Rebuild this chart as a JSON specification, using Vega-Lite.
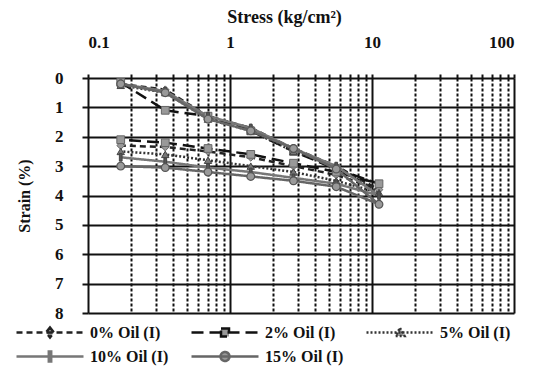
{
  "$schema": "https://vega.github.io/schema/vega-lite/v6.json",
  "width": 426,
  "height": 235,
  "autosize": "none",
  "padding": {"left": 88, "top": 78, "right": 28, "bottom": 57},
  "background": "white",
  "config": {
    "font": "Liberation Serif",
    "view": {"stroke": null}
  },
  "datasets": {
    "d": [
      {"series": "0% Oil (I)", "i": 0, "stress": 0.17, "strain": 0.2},
      {"series": "0% Oil (I)", "i": 1, "stress": 0.35, "strain": 0.4},
      {"series": "0% Oil (I)", "i": 2, "stress": 0.7, "strain": 1.3},
      {"series": "0% Oil (I)", "i": 3, "stress": 1.4, "strain": 1.7},
      {"series": "0% Oil (I)", "i": 4, "stress": 2.8, "strain": 2.4},
      {"series": "0% Oil (I)", "i": 5, "stress": 5.6, "strain": 3.0},
      {"series": "0% Oil (I)", "i": 6, "stress": 11.2, "strain": 3.8},
      {"series": "0% Oil (I)", "i": 7, "stress": 5.6, "strain": 3.3},
      {"series": "0% Oil (I)", "i": 8, "stress": 2.8, "strain": 3.0},
      {"series": "0% Oil (I)", "i": 9, "stress": 1.4, "strain": 2.7},
      {"series": "0% Oil (I)", "i": 10, "stress": 0.7, "strain": 2.5},
      {"series": "0% Oil (I)", "i": 11, "stress": 0.35, "strain": 2.35},
      {"series": "0% Oil (I)", "i": 12, "stress": 0.17, "strain": 2.3},
      {"series": "2% Oil (I)", "i": 0, "stress": 0.17, "strain": 0.15},
      {"series": "2% Oil (I)", "i": 1, "stress": 0.35, "strain": 1.1},
      {"series": "2% Oil (I)", "i": 2, "stress": 0.7, "strain": 1.3},
      {"series": "2% Oil (I)", "i": 3, "stress": 1.4, "strain": 1.8},
      {"series": "2% Oil (I)", "i": 4, "stress": 2.8, "strain": 2.5},
      {"series": "2% Oil (I)", "i": 5, "stress": 5.6, "strain": 3.1},
      {"series": "2% Oil (I)", "i": 6, "stress": 11.2, "strain": 3.6},
      {"series": "2% Oil (I)", "i": 7, "stress": 5.6, "strain": 3.2},
      {"series": "2% Oil (I)", "i": 8, "stress": 2.8, "strain": 2.9},
      {"series": "2% Oil (I)", "i": 9, "stress": 1.4, "strain": 2.6},
      {"series": "2% Oil (I)", "i": 10, "stress": 0.7, "strain": 2.4},
      {"series": "2% Oil (I)", "i": 11, "stress": 0.35, "strain": 2.2},
      {"series": "2% Oil (I)", "i": 12, "stress": 0.17, "strain": 2.1},
      {"series": "5% Oil (I)", "i": 0, "stress": 0.17, "strain": 0.25},
      {"series": "5% Oil (I)", "i": 1, "stress": 0.35, "strain": 0.5},
      {"series": "5% Oil (I)", "i": 2, "stress": 0.7, "strain": 1.4},
      {"series": "5% Oil (I)", "i": 3, "stress": 1.4, "strain": 1.8},
      {"series": "5% Oil (I)", "i": 4, "stress": 2.8, "strain": 2.5},
      {"series": "5% Oil (I)", "i": 5, "stress": 5.6, "strain": 3.0},
      {"series": "5% Oil (I)", "i": 6, "stress": 11.2, "strain": 3.9},
      {"series": "5% Oil (I)", "i": 7, "stress": 5.6, "strain": 3.5},
      {"series": "5% Oil (I)", "i": 8, "stress": 2.8, "strain": 3.2},
      {"series": "5% Oil (I)", "i": 9, "stress": 1.4, "strain": 3.0},
      {"series": "5% Oil (I)", "i": 10, "stress": 0.7, "strain": 2.8},
      {"series": "5% Oil (I)", "i": 11, "stress": 0.35, "strain": 2.6},
      {"series": "5% Oil (I)", "i": 12, "stress": 0.17, "strain": 2.5},
      {"series": "10% Oil (I)", "i": 0, "stress": 0.17, "strain": 0.2},
      {"series": "10% Oil (I)", "i": 1, "stress": 0.35, "strain": 0.45},
      {"series": "10% Oil (I)", "i": 2, "stress": 0.7, "strain": 1.3},
      {"series": "10% Oil (I)", "i": 3, "stress": 1.4, "strain": 1.7},
      {"series": "10% Oil (I)", "i": 4, "stress": 2.8, "strain": 2.4},
      {"series": "10% Oil (I)", "i": 5, "stress": 5.6, "strain": 3.0},
      {"series": "10% Oil (I)", "i": 6, "stress": 11.2, "strain": 4.0},
      {"series": "10% Oil (I)", "i": 7, "stress": 5.6, "strain": 3.6},
      {"series": "10% Oil (I)", "i": 8, "stress": 2.8, "strain": 3.4},
      {"series": "10% Oil (I)", "i": 9, "stress": 1.4, "strain": 3.2},
      {"series": "10% Oil (I)", "i": 10, "stress": 0.7, "strain": 3.05},
      {"series": "10% Oil (I)", "i": 11, "stress": 0.35, "strain": 2.85},
      {"series": "10% Oil (I)", "i": 12, "stress": 0.17, "strain": 2.7},
      {"series": "15% Oil (I)", "i": 0, "stress": 0.17, "strain": 0.2},
      {"series": "15% Oil (I)", "i": 1, "stress": 0.35, "strain": 0.5},
      {"series": "15% Oil (I)", "i": 2, "stress": 0.7, "strain": 1.4},
      {"series": "15% Oil (I)", "i": 3, "stress": 1.4, "strain": 1.8},
      {"series": "15% Oil (I)", "i": 4, "stress": 2.8, "strain": 2.4},
      {"series": "15% Oil (I)", "i": 5, "stress": 5.6, "strain": 3.1},
      {"series": "15% Oil (I)", "i": 6, "stress": 11.2, "strain": 4.3},
      {"series": "15% Oil (I)", "i": 7, "stress": 5.6, "strain": 3.7},
      {"series": "15% Oil (I)", "i": 8, "stress": 2.8, "strain": 3.5},
      {"series": "15% Oil (I)", "i": 9, "stress": 1.4, "strain": 3.35},
      {"series": "15% Oil (I)", "i": 10, "stress": 0.7, "strain": 3.2},
      {"series": "15% Oil (I)", "i": 11, "stress": 0.35, "strain": 3.05},
      {"series": "15% Oil (I)", "i": 12, "stress": 0.17, "strain": 3.0}
    ]
  },
  "data": {"name": "d"},
  "encoding": {
    "x": {
      "field": "stress", "type": "quantitative",
      "scale": {"type": "log", "domain": [0.1, 100]},
      "axis": {
        "orient": "top",
        "title": "Stress (kg/cm²)",
        "titleFontSize": 18, "titleFontWeight": "bold", "titlePadding": 7, "titleColor": "#111",
        "titleX": 196, "titleAlign": "center",
        "values": [0.1,0.2,0.3,0.4,0.5,0.6,0.7,0.8,0.9,1,2,3,4,5,6,7,8,9,10,20,30,40,50,60,70,80,90,100],
        "labelExpr": "datum.value == 0.1 ? '0.1' : datum.value == 1 ? '1' : datum.value == 10 ? '10' : datum.value == 100 ? '100' : ''",
        "labelFontSize": 17, "labelFontWeight": "bold", "labelColor": "#111", "labelPadding": 23,
        "ticks": true, "tickSize": 4, "tickColor": "#111", "tickWidth": 2, "domain": false,
        "grid": true, "gridColor": "#111", "gridOpacity": 1, "gridWidth": 2,
        "gridDash": {"condition": {"test": "datum.value == 0.1 || datum.value == 1 || datum.value == 10 || datum.value == 100", "value": []}, "value": [3, 2]}
      }
    },
    "y": {
      "field": "strain", "type": "quantitative",
      "scale": {"domain": [0, 8], "reverse": true, "nice": false},
      "axis": {
        "title": "Strain (%)", "titleFontSize": 16, "titleFontWeight": "bold", "titlePadding": 22, "titleColor": "#111",
        "values": [0,1,2,3,4,5,6,7,8], "labelOverlap": false,
        "labelFontSize": 17, "labelFontWeight": "bold", "labelColor": "#111", "labelPadding": 19,
        "ticks": true, "tickSize": 6, "tickColor": "#111", "tickWidth": 2, "domain": false,
        "grid": true, "gridColor": "#111", "gridOpacity": 1, "gridWidth": 2
      }
    }
  },
  "layer": [
    {
      "mark": {"type": "line", "strokeWidth": 2.5},
      "encoding": {
        "order": {"field": "i", "type": "quantitative"},
        "color": {
          "field": "series", "type": "nominal",
          "scale": {"domain": ["0% Oil (I)", "2% Oil (I)", "5% Oil (I)", "10% Oil (I)", "15% Oil (I)"], "range": ["#222", "#111", "#333", "#777", "#666"]},
          "legend": {
            "title": null, "orient": "none", "legendX": -73, "legendY": 243, "padding": 0,
            "direction": "horizontal", "columns": 3, "columnPadding": 17, "rowPadding": 2, "gridAlign": "none",
            "labelFontSize": 16, "labelFontWeight": "bold", "labelColor": "#111", "labelLimit": 200,
            "symbolSize": 400, "symbolStrokeWidth": 2.5, "symbolOffset": 23.5, "labelOffset": 28.5, "symbolOpacity": 1,
            "encode": {"symbols": {"update": {"fill": {"value": "#999"}, "fillOpacity": {"value": 1}, "opacity": {"value": 1}}}}
          }
        },
        "strokeDash": {
          "field": "series", "type": "nominal",
          "scale": {"domain": ["0% Oil (I)", "2% Oil (I)", "5% Oil (I)", "10% Oil (I)", "15% Oil (I)"], "range": [[6, 4], [12, 6], [2, 2], [1, 0], [1, 0]]}
        }
      }
    },
    {
      "transform": [{"filter": "false"}],
      "mark": {"type": "point", "filled": false, "size": 400, "strokeWidth": 2.5},
      "encoding": {
        "color": {"field": "series", "type": "nominal"},
        "strokeDash": {"field": "series", "type": "nominal"},
        "shape": {
          "field": "series", "type": "nominal",
          "scale": {"domain": ["0% Oil (I)", "2% Oil (I)", "5% Oil (I)", "10% Oil (I)", "15% Oil (I)"],
            "range": [
              "M-3.35,0H3.35M0,-0.5L0.4,0L0,0.5L-0.4,0Z",
              "M-3.35,0H3.35M-0.4,-0.4H0.4V0.4H-0.4Z",
              "M-3.35,0H3.35M0,-0.45L0.45,0.35H-0.45Z",
              "M-3.35,0H3.35M-0.12,-0.5H0.12V0.5H-0.12Z",
              "M-3.35,0H3.35M0.45,0A0.45,0.45 0 1,1 -0.45,0A0.45,0.45 0 1,1 0.45,0Z"
            ]}
        }
      }
    },
    {
      "transform": [{"filter": {"field": "series", "equal": "0% Oil (I)"}}],
      "mark": {"type": "point", "shape": "diamond", "filled": true, "size": 60, "fill": "#999", "stroke": "#666", "strokeWidth": 1, "opacity": 1}
    },
    {
      "transform": [{"filter": {"field": "series", "equal": "2% Oil (I)"}}],
      "mark": {"type": "point", "shape": "square", "filled": true, "size": 60, "fill": "#999", "stroke": "#666", "strokeWidth": 1, "opacity": 1}
    },
    {
      "transform": [{"filter": {"field": "series", "equal": "5% Oil (I)"}}],
      "mark": {"type": "point", "shape": "triangle-up", "filled": true, "size": 55, "fill": "#777", "stroke": "#444", "strokeWidth": 1, "opacity": 1}
    },
    {
      "transform": [{"filter": {"field": "series", "equal": "10% Oil (I)"}}],
      "mark": {"type": "point", "shape": "M-0.35,-1H0.35V1H-0.35Z", "filled": true, "size": 60, "fill": "#555", "stroke": "#444", "strokeWidth": 1, "opacity": 1}
    },
    {
      "transform": [{"filter": {"field": "series", "equal": "15% Oil (I)"}}],
      "mark": {"type": "point", "shape": "circle", "filled": true, "size": 60, "fill": "#999", "stroke": "#555", "strokeWidth": 1.2, "opacity": 1}
    }
  ]
}
